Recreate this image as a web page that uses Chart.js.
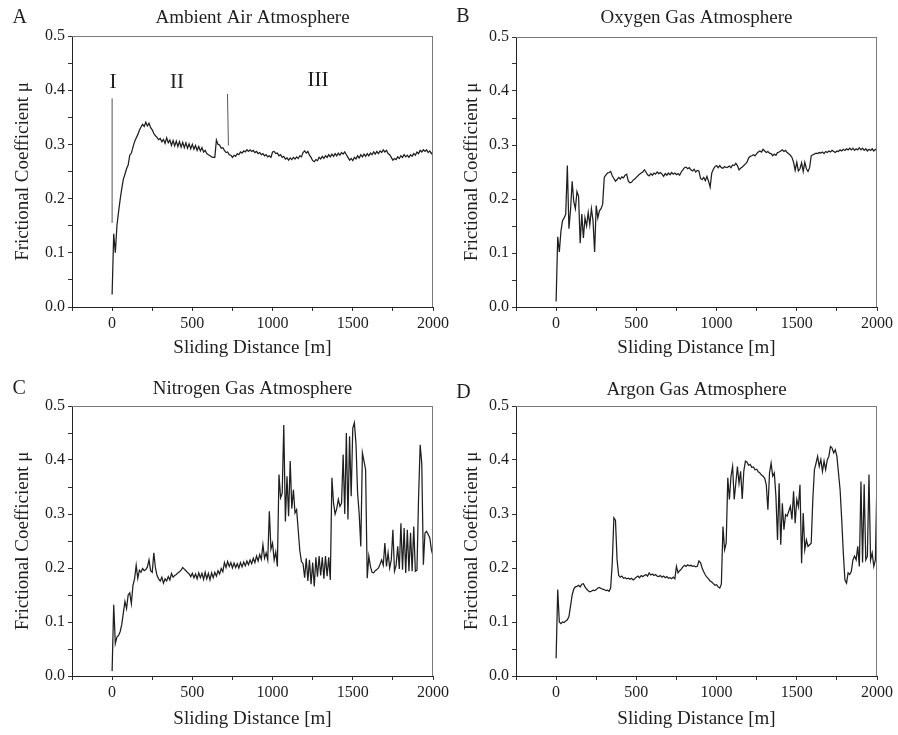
<!DOCTYPE html>
<html><head><meta charset="utf-8">
<script src="https://cdn.jsdelivr.net/npm/chart.js@4.4.1/dist/chart.umd.min.js"></script>
<style>
html,body{margin:0;padding:0;background:#fff;}
#wrap{position:relative;width:898px;height:735px;background:#fff;overflow:hidden;}
canvas{position:absolute;}
</style></head><body>
<div id="wrap">
<canvas id="panelA" width="449" height="367" style="left:0px;top:0px"></canvas>
<canvas id="panelB" width="449" height="367" style="left:449px;top:0px"></canvas>
<canvas id="panelC" width="449" height="368" style="left:0px;top:367px"></canvas>
<canvas id="panelD" width="449" height="368" style="left:449px;top:367px"></canvas>
</div>
<script>
// ---------------- DATA ----------------
const distanceStep = 10; // sliding distance between samples [m], first sample at 0 m

const panelLetters = ['A', 'B', 'C', 'D'];
const panelTitles = ['Ambient Air Atmosphere', 'Oxygen Gas Atmosphere', 'Nitrogen Gas Atmosphere', 'Argon Gas Atmosphere'];
const xAxisTitle = 'Sliding Distance [m]';
const yAxisTitle = 'Frictional Coefficient μ';
const xTickLabels = ['0', '500', '1000', '1500', '2000'];
const yTickLabels = ['0.0', '0.1', '0.2', '0.3', '0.4', '0.5'];

// Ambient air (panel A), one value per 10 m
const airFriction = [
 0.023,0.135,0.100,0.150,0.175,0.198,0.218,0.236,0.245,0.255,
 0.262,0.280,0.284,0.295,0.305,0.312,0.318,0.326,0.332,0.337,
 0.333,0.341,0.334,0.339,0.331,0.327,0.320,0.316,0.313,0.309,
 0.311,0.305,0.309,0.302,0.312,0.303,0.308,0.298,0.307,0.297,
 0.306,0.296,0.305,0.295,0.304,0.294,0.303,0.293,0.301,0.292,
 0.300,0.291,0.298,0.289,0.296,0.288,0.294,0.286,0.289,0.283,
 0.281,0.279,0.277,0.276,0.276,0.308,0.300,0.299,0.293,0.294,
 0.289,0.285,0.286,0.281,0.280,0.276,0.280,0.278,0.283,0.281,
 0.286,0.284,0.288,0.286,0.290,0.287,0.290,0.287,0.289,0.285,
 0.287,0.283,0.285,0.281,0.283,0.279,0.281,0.277,0.279,0.276,
 0.286,0.287,0.283,0.284,0.279,0.281,0.276,0.278,0.273,0.275,
 0.271,0.275,0.272,0.276,0.273,0.277,0.274,0.279,0.277,0.285,
 0.288,0.284,0.287,0.280,0.276,0.270,0.268,0.272,0.270,0.276,
 0.273,0.278,0.274,0.279,0.276,0.281,0.277,0.282,0.278,0.283,
 0.279,0.284,0.280,0.285,0.282,0.286,0.281,0.276,0.271,0.274,
 0.270,0.276,0.273,0.279,0.275,0.281,0.277,0.282,0.278,0.283,
 0.279,0.284,0.281,0.286,0.282,0.287,0.283,0.288,0.285,0.290,
 0.286,0.289,0.283,0.281,0.276,0.271,0.274,0.272,0.277,0.274,
 0.279,0.276,0.281,0.277,0.280,0.276,0.281,0.278,0.283,0.280,
 0.286,0.283,0.289,0.286,0.290,0.287,0.290,0.285,0.288,0.283,
 0.286
];

// Oxygen gas (panel B)
const oxygenFriction = [
 0.010,0.130,0.102,0.140,0.160,0.165,0.172,0.262,0.145,0.180,
 0.233,0.195,0.182,0.214,0.205,0.118,0.172,0.128,0.165,0.150,
 0.175,0.152,0.182,0.160,0.102,0.188,0.165,0.178,0.182,0.190,
 0.240,0.244,0.248,0.249,0.251,0.243,0.238,0.233,0.236,0.240,
 0.237,0.241,0.239,0.244,0.246,0.233,0.230,0.231,0.235,0.237,
 0.240,0.243,0.246,0.248,0.250,0.254,0.250,0.245,0.243,0.247,
 0.244,0.248,0.246,0.250,0.247,0.249,0.246,0.242,0.247,0.244,
 0.248,0.245,0.249,0.246,0.248,0.245,0.247,0.244,0.250,0.254,
 0.258,0.259,0.256,0.258,0.254,0.252,0.255,0.250,0.253,0.252,
 0.238,0.236,0.240,0.234,0.242,0.233,0.222,0.248,0.255,0.260,
 0.262,0.258,0.262,0.258,0.257,0.260,0.258,0.259,0.261,0.258,
 0.263,0.262,0.266,0.262,0.254,0.257,0.259,0.262,0.265,0.268,
 0.276,0.279,0.280,0.282,0.280,0.284,0.287,0.289,0.287,0.292,
 0.289,0.286,0.288,0.285,0.284,0.280,0.283,0.281,0.286,0.287,
 0.289,0.291,0.288,0.290,0.286,0.284,0.281,0.277,0.268,0.253,
 0.268,0.252,0.256,0.267,0.251,0.268,0.256,0.251,0.258,0.280,
 0.282,0.283,0.285,0.284,0.286,0.285,0.287,0.284,0.288,0.286,
 0.289,0.287,0.290,0.288,0.286,0.289,0.288,0.291,0.289,0.292,
 0.290,0.293,0.291,0.294,0.291,0.294,0.290,0.293,0.291,0.295,
 0.291,0.294,0.290,0.293,0.289,0.292,0.290,0.293,0.289,0.292,
 0.290
];

// Nitrogen gas (panel C)
const nitrogenFriction = [
 0.009,0.132,0.060,0.072,0.075,0.082,0.095,0.117,0.138,0.125,
 0.150,0.154,0.134,0.168,0.180,0.205,0.181,0.196,0.192,0.199,
 0.195,0.197,0.202,0.215,0.195,0.192,0.228,0.200,0.186,0.180,
 0.176,0.183,0.172,0.180,0.176,0.184,0.178,0.190,0.183,0.186,
 0.188,0.191,0.193,0.196,0.201,0.198,0.195,0.192,0.189,0.184,
 0.190,0.182,0.189,0.180,0.191,0.182,0.190,0.179,0.192,0.180,
 0.190,0.178,0.191,0.182,0.192,0.185,0.195,0.189,0.199,0.193,
 0.210,0.201,0.212,0.203,0.210,0.200,0.209,0.201,0.208,0.200,
 0.210,0.202,0.211,0.204,0.213,0.206,0.215,0.208,0.218,0.210,
 0.222,0.213,0.225,0.216,0.243,0.218,0.228,0.215,0.305,0.235,
 0.246,0.215,0.230,0.203,0.373,0.330,0.338,0.465,0.286,0.370,
 0.296,0.398,0.310,0.345,0.302,0.308,0.270,0.232,0.212,0.208,
 0.182,0.218,0.176,0.215,0.170,0.210,0.166,0.220,0.184,0.222,
 0.186,0.220,0.180,0.222,0.185,0.220,0.178,0.367,0.320,0.300,
 0.310,0.327,0.314,0.320,0.410,0.300,0.450,0.290,0.444,0.333,
 0.459,0.469,0.430,0.339,0.300,0.240,0.413,0.398,0.382,0.181,
 0.222,0.203,0.192,0.191,0.195,0.197,0.200,0.207,0.215,0.205,
 0.246,0.203,0.228,0.200,0.215,0.271,0.194,0.205,0.240,0.198,
 0.283,0.197,0.274,0.191,0.271,0.194,0.265,0.194,0.277,0.194,
 0.196,0.330,0.428,0.394,0.206,0.265,0.268,0.262,0.256,0.234,
 0.222
];

// Argon gas (panel D)
const argonFriction = [
 0.033,0.160,0.100,0.097,0.100,0.099,0.102,0.104,0.110,0.130,
 0.150,0.161,0.165,0.166,0.168,0.165,0.170,0.171,0.165,0.161,
 0.158,0.156,0.157,0.159,0.158,0.160,0.163,0.164,0.162,0.161,
 0.160,0.158,0.159,0.157,0.163,0.210,0.293,0.288,0.215,0.186,
 0.183,0.185,0.181,0.182,0.180,0.181,0.179,0.181,0.178,0.180,
 0.183,0.185,0.182,0.186,0.184,0.186,0.188,0.185,0.191,0.187,
 0.189,0.186,0.188,0.185,0.184,0.186,0.183,0.185,0.182,0.184,
 0.181,0.182,0.180,0.183,0.180,0.203,0.191,0.195,0.198,0.202,
 0.205,0.203,0.206,0.204,0.205,0.203,0.204,0.202,0.203,0.213,
 0.210,0.200,0.193,0.187,0.183,0.180,0.176,0.174,0.171,0.168,
 0.169,0.165,0.163,0.170,0.277,0.234,0.246,0.367,0.327,0.370,
 0.388,0.327,0.357,0.388,0.357,0.379,0.328,0.380,0.398,0.396,
 0.390,0.392,0.386,0.387,0.382,0.383,0.378,0.376,0.372,0.370,
 0.366,0.354,0.308,0.376,0.394,0.370,0.376,0.333,0.252,0.357,
 0.243,0.320,0.271,0.299,0.296,0.305,0.314,0.290,0.342,0.283,
 0.327,0.314,0.354,0.209,0.302,0.234,0.252,0.240,0.243,0.246,
 0.327,0.382,0.394,0.407,0.388,0.401,0.379,0.398,0.382,0.400,
 0.407,0.425,0.422,0.413,0.419,0.407,0.376,0.345,0.290,0.228,
 0.178,0.172,0.191,0.188,0.194,0.215,0.222,0.215,0.240,0.203,
 0.360,0.210,0.355,0.215,0.222,0.373,0.215,0.228,0.203,0.215,
 0.370
];

// Panel A annotations: regime boundary marker lines and regime labels
const markerLineX = [[0, 0], [719, 725]];
const markerLineY = [[0.155, 0.385], [0.393, 0.298]];
const regimeLabels = ['I', 'II', 'III'];
const regimeLabelX = [6, 405, 1283];
const regimeLabelY = [0.404, 0.404, 0.407];

// ---------------- LAYOUT / STYLE ----------------
const SERIF = "'Liberation Serif', 'Times New Roman', Times, serif";
const TEXT = '#1e1e1e';
const layouts = [
  {id:'panelA', w:449, h:367, plotL:72, plotT:36, plotR:433, plotB:307, titleBase:22.7, letterX:12.5, letterBase:22.7, xTitlePad:8},
  {id:'panelB', w:449, h:367, plotL:67, plotT:37, plotR:428, plotB:307, titleBase:22.7, letterX:7.3, letterBase:22, xTitlePad:8},
  {id:'panelC', w:449, h:368, plotL:72, plotT:39, plotR:433, plotB:309, titleBase:26.7, letterX:12.5, letterBase:27.3, xTitlePad:5},
  {id:'panelD', w:449, h:368, plotL:67, plotT:39, plotR:428, plotB:309, titleBase:27.7, letterX:7.3, letterBase:30.7, xTitlePad:5}
];
const seriesList = [airFriction, oxygenFriction, nitrogenFriction, argonFriction];

const panelDecor = {
  id: 'panelDecor',
  afterDraw(chart, args, o) {
    const {ctx, chartArea: a, scales} = chart;
    ctx.save();
    // top and right frame
    ctx.strokeStyle = '#7a7a7a';
    ctx.lineWidth = 1;
    ctx.beginPath();
    ctx.moveTo(a.left, a.top + 0.5); ctx.lineTo(a.right, a.top + 0.5);
    ctx.moveTo(a.right - 0.5, a.top); ctx.lineTo(a.right - 0.5, a.bottom);
    ctx.stroke();
    ctx.fillStyle = TEXT;
    ctx.textBaseline = 'alphabetic';
    ctx.font = '19px ' + SERIF;
    ctx.textAlign = 'center';
    ctx.fillText(o.title, (a.left + a.right) / 2, o.titleBase);
    ctx.font = '20px ' + SERIF;
    ctx.textAlign = 'left';
    ctx.fillText(o.letter, o.letterX, o.letterBase);
    if (o.labels) {
      ctx.font = '21px ' + SERIF;
      ctx.textAlign = 'center';
      o.labels.forEach((t, i) => {
        ctx.fillText(t, scales.x.getPixelForValue(o.labelX[i]), scales.y.getPixelForValue(o.labelY[i]));
      });
    }
    ctx.restore();
  }
};

function makeChart(idx) {
  const L = layouts[idx];
  const values = seriesList[idx];
  const distances = values.map((_, i) => i * distanceStep);
  const datasets = [{
    data: distances.map((d, i) => ({x: d, y: values[i]})),
    borderColor: '#1f1f1f', borderWidth: 1.25, pointRadius: 0, tension: 0, fill: false
  }];
  if (idx === 0) {
    markerLineX.forEach((xs, k) => {
      datasets.push({
        data: xs.map((x, j) => ({x: x, y: markerLineY[k][j]})),
        borderColor: '#555', borderWidth: 1, pointRadius: 0, fill: false
      });
    });
  }
  return new Chart(document.getElementById(L.id), {
    type: 'line',
    data: {datasets},
    plugins: [panelDecor],
    options: {
      responsive: false, animation: false, devicePixelRatio: 1,
      layout: {padding: {top: L.plotT, right: L.w - L.plotR, left: 0, bottom: 0}},
      plugins: {
        legend: {display: false}, tooltip: {enabled: false},
        panelDecor: {
          title: panelTitles[idx], letter: panelLetters[idx],
          titleBase: L.titleBase, letterX: L.letterX, letterBase: L.letterBase,
          labels: idx === 0 ? regimeLabels : null, labelX: regimeLabelX, labelY: regimeLabelY
        }
      },
      scales: {
        x: {
          type: 'linear', min: -250, max: 2000,
          afterFit: s => { s.height = L.h - L.plotB; s.paddingLeft = 0; s.paddingRight = 0; },
          ticks: {
            stepSize: 250, autoSkip: false, maxRotation: 0, padding: 3,
            color: TEXT, font: {family: SERIF, size: 16},
            callback: v => { const s = String(Math.round(v)); return xTickLabels.includes(s) ? s : ''; }
          },
          grid: {display: true, drawOnChartArea: false, drawTicks: true, tickLength: 4, tickColor: '#333', color: '#333'},
          border: {display: true, color: '#222', width: 1},
          title: {display: true, text: xAxisTitle, color: TEXT, font: {family: SERIF, size: 19}, padding: {top: 0, bottom: L.xTitlePad}}
        },
        y: {
          type: 'linear', min: 0, max: 0.5,
          afterFit: s => { s.width = L.plotL; s.paddingTop = 0; s.paddingBottom = 0; },
          ticks: {
            stepSize: 0.05, autoSkip: false, padding: 3,
            color: TEXT, font: {family: SERIF, size: 16},
            callback: v => {
              const r = Math.round(v * 100);
              if (r % 10 !== 0) return '';
              const s = (r / 100).toFixed(1);
              return yTickLabels.includes(s) ? s : '';
            }
          },
          grid: {display: true, drawOnChartArea: false, drawTicks: true, tickLength: 4, tickColor: '#333', color: '#333'},
          border: {display: true, color: '#222', width: 1},
          title: {display: true, text: yAxisTitle, color: TEXT, font: {family: SERIF, size: 19}, padding: {top: 12, bottom: 0}}
        }
      }
    }
  });
}

[0, 1, 2, 3].forEach(makeChart);
</script>
</body></html>
